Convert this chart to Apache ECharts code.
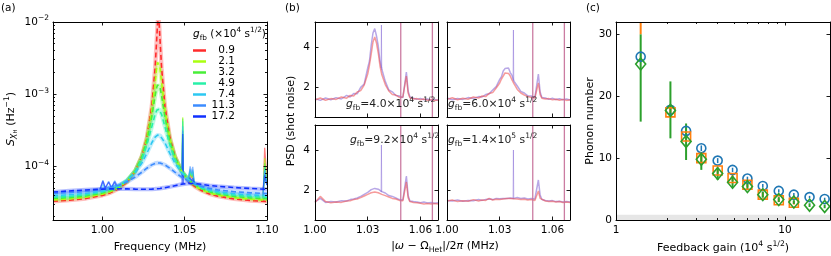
<!DOCTYPE html>
<html>
<head>
<meta charset="utf-8">
<script src="https://cdn.jsdelivr.net/npm/echarts@6.0.0/dist/echarts.min.js"></script>
<style>
html,body{margin:0;padding:0;background:#ffffff;}
#chart{width:831px;height:256px;}
</style>
</head>
<body>
<div id="chart"></div>
<script>
// ================= Panel (a) : spectra vs feedback gain =================
const aFreq = [0.970,0.980,0.990,1.000,1.005,1.010,1.015,1.020,1.024,1.027,1.030,1.032,1.033,1.0335,1.034,1.0345,1.035,1.036,1.038,1.041,1.044,1.048,1.052,1.056,1.060,1.065,1.070,1.080,1.090,1.100];
const aGainLabels = ['0.9','2.1','3.2','4.9','7.4','11.3','17.2'];
const aFit_0_9  = [3.27e-5,3.38e-5,3.57e-5,3.95e-5,4.31e-5,4.91e-5,6.04e-5,8.59e-5,1.39e-4,2.50e-4,6.81e-4,2.27e-3,5.76e-3,9.43e-3,1.20e-2,9.43e-3,5.76e-3,2.27e-3,6.81e-4,2.50e-4,1.39e-4,8.59e-5,6.39e-5,5.27e-5,4.63e-5,4.14e-5,3.85e-5,3.52e-5,3.35e-5,3.25e-5];
const aFit_2_1  = [3.42e-5,3.53e-5,3.72e-5,4.10e-5,4.45e-5,5.05e-5,6.17e-5,8.66e-5,1.37e-4,2.40e-4,5.87e-4,1.44e-3,2.33e-3,2.75e-3,2.93e-3,2.75e-3,2.33e-3,1.44e-3,5.87e-4,2.40e-4,1.37e-4,8.66e-5,6.51e-5,5.41e-5,4.77e-5,4.29e-5,4.00e-5,3.67e-5,3.50e-5,3.40e-5];
const aFit_3_2  = [3.57e-5,3.68e-5,3.87e-5,4.25e-5,4.60e-5,5.18e-5,6.28e-5,8.69e-5,1.35e-4,2.25e-4,4.88e-4,9.38e-4,1.235e-3,1.343e-3,1.383e-3,1.343e-3,1.235e-3,9.38e-4,4.88e-4,2.25e-4,1.35e-4,8.69e-5,6.61e-5,5.54e-5,4.91e-5,4.44e-5,4.14e-5,3.82e-5,3.65e-5,3.55e-5];
const aFit_4_9  = [3.72e-5,3.82e-5,4.01e-5,4.39e-5,4.73e-5,5.30e-5,6.35e-5,8.58e-5,1.27e-4,1.97e-4,3.52e-4,5.21e-4,5.96e-4,6.18e-4,6.26e-4,6.18e-4,5.96e-4,5.21e-4,3.52e-4,1.97e-4,1.27e-4,8.58e-5,6.66e-5,5.64e-5,5.03e-5,4.57e-5,4.29e-5,3.97e-5,3.80e-5,3.70e-5];
const aFit_7_4  = [3.92e-5,4.02e-5,4.20e-5,4.56e-5,4.89e-5,5.42e-5,6.35e-5,8.18e-5,1.11e-4,1.51e-4,2.12e-4,2.53e-4,2.67e-4,2.70e-4,2.72e-4,2.70e-4,2.67e-4,2.53e-4,2.12e-4,1.51e-4,1.11e-4,8.18e-5,6.62e-5,5.72e-5,5.17e-5,4.74e-5,4.47e-5,4.16e-5,4.00e-5,3.90e-5];
const aFit_11_3 = [4.21e-5,4.31e-5,4.48e-5,4.79e-5,5.06e-5,5.46e-5,6.09e-5,7.10e-5,8.30e-5,9.40e-5,1.046e-4,1.096e-4,1.109e-4,1.113e-4,1.114e-4,1.113e-4,1.109e-4,1.096e-4,1.046e-4,9.40e-5,8.30e-5,7.10e-5,6.26e-5,5.68e-5,5.28e-5,4.94e-5,4.71e-5,4.44e-5,4.28e-5,4.19e-5];
const aFit_17_2 = [4.40e-5,4.55e-5,4.70e-5,4.82e-5,4.86e-5,4.88e-5,4.86e-5,4.82e-5,4.80e-5,4.80e-5,4.82e-5,4.85e-5,4.87e-5,4.88e-5,4.90e-5,4.91e-5,4.93e-5,4.97e-5,5.05e-5,5.20e-5,5.38e-5,5.62e-5,5.80e-5,5.78e-5,5.62e-5,5.42e-5,5.28e-5,5.08e-5,4.92e-5,4.80e-5];
const aFits = [aFit_0_9,aFit_2_1,aFit_3_2,aFit_4_9,aFit_7_4,aFit_11_3,aFit_17_2];
// narrow spurious peaks in the measured traces (frequency groups, then values per gain)
const aSpikeFreqs = [
  [1.0484,1.0488,1.0492],
  [1.0522,1.0533,1.0541,1.0549,1.0558],
  [1.0976,1.0986,1.0994,1.1000],
  [0.9985,1.0003,1.0018,1.0038,1.0055,1.0075,1.0092]
];
const aSpike_0_9  = [[8.6e-5,2.5e-4,8.0e-5],[6.4e-5,7.8e-5,6.8e-5,7.6e-5,5.3e-5],[3.3e-5,1.8e-4,1.0e-4,6.0e-5],null];
const aSpike_2_1  = [[8.7e-5,4.8e-4,8.2e-5],[6.5e-5,8.2e-5,7.0e-5,8.0e-5,5.4e-5],[3.4e-5,1.3e-4,8.0e-5,5.5e-5],null];
const aSpike_3_2  = [[8.7e-5,4.6e-4,8.2e-5],[6.6e-5,8.5e-5,7.2e-5,8.3e-5,5.5e-5],[3.6e-5,1.1e-4,7.5e-5,5.5e-5],null];
const aSpike_4_9  = [[8.6e-5,4.2e-4,8.1e-5],[6.6e-5,8.8e-5,7.4e-5,8.6e-5,5.6e-5],[3.7e-5,1.0e-4,7.0e-5,5.5e-5],null];
const aSpike_7_4  = [[8.2e-5,3.6e-4,7.8e-5],[6.6e-5,9.2e-5,7.6e-5,9.0e-5,5.7e-5],[3.9e-5,9.0e-5,6.5e-5,5.5e-5],[4.5e-5,5.6e-5,4.7e-5,5.3e-5,4.8e-5,5.5e-5,5.0e-5]];
const aSpike_11_3 = [[7.1e-5,3.1e-4,6.9e-5],[6.3e-5,1.0e-4,8.0e-5,9.8e-5,5.7e-5],[4.2e-5,8.5e-5,6.5e-5,5.5e-5],[4.7e-5,6.4e-5,5.0e-5,6.2e-5,5.1e-5,6.3e-5,5.3e-5]];
const aSpike_17_2 = [[5.6e-5,2.8e-4,5.7e-5],[5.8e-5,7.0e-5,6.2e-5,6.8e-5,5.8e-5],[4.8e-5,7.5e-5,6.0e-5,5.5e-5],[4.8e-5,6.2e-5,5.0e-5,6.0e-5,5.0e-5,6.1e-5,4.9e-5]];
const aSpikes = [aSpike_0_9,aSpike_2_1,aSpike_3_2,aSpike_4_9,aSpike_7_4,aSpike_11_3,aSpike_17_2];
const aNoiseFloor = 2.2e-5;
const aXRange = [0.97, 1.10];
const aYRange = [1.8e-5, 1e-2];
const aXTicks = [1.00,1.05,1.10];
const aYTicks = [1e-4,1e-3,1e-2];
const aYMinor = [2e-5,3e-5,4e-5,5e-5,6e-5,7e-5,8e-5,9e-5,2e-4,3e-4,4e-4,5e-4,6e-4,7e-4,8e-4,9e-4,2e-3,3e-3,4e-3,5e-3,6e-3,7e-3,8e-3,9e-3];

// ================= Panel (b) : PSD for four gains =================
const bFreq = [1.000,1.003,1.006,1.009,1.012,1.015,1.018,1.020,1.022,1.024,1.026,1.028,1.030,1.031,1.032,1.033,1.034,1.035,1.036,1.037,1.038,1.040,1.042,1.044,1.046,1.048,1.050,1.051,1.052,1.053,1.054,1.056,1.058,1.060,1.062,1.064,1.066,1.068,1.070];
const bGainMant = ['4.0','6.0','9.2','1.4'];
const bGainExp = ['4','4','4','5'];
const bPurple_4_0 = [1.42,1.33,1.45,1.36,1.47,1.40,1.58,1.50,1.68,1.66,1.98,2.15,2.95,3.30,4.10,4.70,4.92,4.55,4.05,3.30,2.90,2.28,1.85,1.76,1.58,1.55,1.47,1.52,2.75,1.80,1.50,1.44,1.38,1.43,1.36,1.40,1.33,1.38,1.34];
const bRed_4_0    = [1.35,1.45,1.34,1.42,1.38,1.50,1.44,1.58,1.55,1.75,1.82,2.10,2.65,3.10,3.65,4.25,4.50,4.20,3.70,3.05,2.62,2.12,1.80,1.62,1.60,1.48,1.50,1.44,2.55,1.70,1.46,1.40,1.42,1.36,1.40,1.33,1.37,1.32,1.35];
const bPurple_6_0 = [1.45,1.36,1.42,1.38,1.47,1.42,1.52,1.50,1.62,1.66,1.85,2.02,2.38,2.52,2.80,2.92,2.98,2.95,2.72,2.58,2.30,2.05,1.78,1.70,1.56,1.55,1.47,1.55,2.65,1.75,1.48,1.45,1.38,1.44,1.37,1.41,1.36,1.40,1.35];
const bRed_6_0    = [1.38,1.46,1.36,1.44,1.39,1.50,1.45,1.55,1.52,1.68,1.72,1.95,2.20,2.40,2.55,2.70,2.74,2.68,2.55,2.35,2.18,1.88,1.70,1.60,1.52,1.48,1.45,1.42,2.20,1.62,1.44,1.40,1.42,1.36,1.39,1.34,1.38,1.33,1.36];
const bPurple_9_2 = [1.40,1.58,1.38,1.42,1.40,1.46,1.45,1.52,1.55,1.60,1.68,1.78,1.88,1.95,2.02,2.05,2.08,2.03,2.04,1.95,1.92,1.85,1.72,1.68,1.60,1.52,1.50,1.48,2.70,1.72,1.45,1.42,1.40,1.36,1.40,1.35,1.37,1.34,1.36];
const bRed_9_2    = [1.38,1.68,1.42,1.36,1.40,1.38,1.45,1.46,1.52,1.55,1.62,1.70,1.78,1.82,1.86,1.88,1.90,1.88,1.86,1.82,1.78,1.72,1.65,1.58,1.55,1.48,1.46,1.44,2.40,1.62,1.42,1.38,1.36,1.34,1.30,1.33,1.30,1.32,1.30];
const bPurple_14  = [1.48,1.45,1.50,1.44,1.48,1.46,1.52,1.48,1.53,1.55,1.52,1.58,1.56,1.60,1.58,1.62,1.58,1.62,1.60,1.63,1.58,1.62,1.58,1.60,1.55,1.58,1.55,1.60,2.50,1.75,1.52,1.48,1.45,1.47,1.42,1.44,1.40,1.43,1.40];
const bRed_14     = [1.45,1.50,1.42,1.46,1.44,1.52,1.45,1.50,1.48,1.58,1.50,1.54,1.52,1.56,1.55,1.54,1.57,1.55,1.58,1.54,1.56,1.55,1.52,1.54,1.50,1.52,1.48,1.50,1.95,1.58,1.48,1.45,1.42,1.44,1.40,1.42,1.38,1.40,1.38];
const bPurple = [bPurple_4_0,bPurple_6_0,bPurple_9_2,bPurple_14];
const bRed = [bRed_4_0,bRed_6_0,bRed_9_2,bRed_14];
const bSpurLines = [1.0488,1.0668];
const bSpikeFreq = [1.0376,1.0378,1.0380];
const bSpikeVals = [[2.95,5.10,2.85],[2.35,4.85,2.30],[1.90,4.25,1.90],[1.58,4.00,1.58]];
const bXRange = [1.00, 1.07];
const bYRange = [0.5, 5.25];
const bXTicks = [1.00,1.03,1.06];
const bYTicks = [2,4];

// ================= Panel (c) : phonon number vs gain =================
const cGain = [1.4,2.1,2.6,3.2,4.0,4.9,6.0,7.4,9.2,11.3,14.0,17.2];
const cBlue = [26.4,17.8,14.4,11.6,9.6,8.1,6.7,5.5,4.7,4.1,3.7,3.4];
const cBlueErr = [0.8,0.6,0.5,0.45,0.4,0.35,0.3,0.3,0.25,0.25,0.2,0.2];
const cOrange = [38.0,17.4,13.5,10.0,8.0,6.8,5.7,4.1,3.2,2.8,null,null];
const cOrangeErr = [8.0,0.8,0.7,0.6,0.5,0.5,0.4,0.4,0.3,0.3,null,null];
const cGreen = [25.2,17.7,12.7,9.8,7.5,6.1,5.4,4.1,3.3,2.9,2.4,2.2];
const cGreenLo = [15.9,13.2,9.7,8.1,6.5,5.3,4.8,3.6,2.9,2.6,2.1,1.9];
const cGreenHi = [30.0,22.4,15.6,11.0,8.4,6.9,6.0,4.6,3.7,3.2,2.7,2.5];
const cFloor = 0.85;
const cXRange = [1, 18.5];
const cYRange = [0, 32];
const cXTicks = [1,10];
const cXMinor = [2,3,4,5,6,7,8,9];
const cYTicks = [0,10,20,30];

// ================= styling =================
const FONT = 'DejaVu Sans';
const aColors = ['#ff2b2b','#aaff10','#48ee38','#28f0a8','#2cc8f2','#3c8cff','#1030ff'];
const bPurpleColor = '#7d5fd2';
const bRedColor = '#ee4a4a';
const bSpurColor = '#c56e98';
const cColors = ['#1f77b4','#ff7f0e','#2ca02c'];
const lg = v => Math.log10(v);

const grids = [
  {left:53, top:22, width:214, height:198},
  {left:315, top:22, width:123, height:95},
  {left:447, top:22, width:123, height:95},
  {left:315, top:125, width:123, height:95},
  {left:447, top:125, width:123, height:95},
  {left:616, top:22, width:214, height:198}
].map(g => Object.assign({containLabel:false, outerBoundsMode:'none', show:false}, g));

const xAxes = [], yAxes = [];
function mkAxis(grid, type, min, max, pos, o) {
  const a = {
    gridIndex: grid, type, min, max, position: pos,
    splitLine: {show:false}, splitArea: {show:false}, axisPointer: {show:false}, z: 10,
    axisLine: {show: o.line !== false, onZero: false, lineStyle: {color:'#000', width:1}},
    axisTick: o.ticks ? {show: true, inside: true, length: o.len || 3.5, lineStyle: {color:'#000', width:0.9}, customValues: o.ticks} : {show:false},
    axisLabel: o.labels ? {show:true, customValues:o.labels, formatter:o.fmt, color:'#000', fontFamily:FONT, fontSize:10.5, margin:o.margin || 4, rich:o.rich} : {show:false}
  };
  if (type === 'log') a.logBase = 10;
  return a;
}
function addX(a){ xAxes.push(a); return xAxes.length - 1; }
function addY(a){ yAxes.push(a); return yAxes.length - 1; }

const supRich = {
  n: {fontFamily:FONT, fontSize:10.5, lineHeight:15, color:'#000'},
  sup: {fontFamily:FONT, fontSize:7.5, lineHeight:7, verticalAlign:'top', color:'#000'}
};

// ---- axes (a): data axes + tick-only axes (log ticks drawn on log10 value scale)
const axAx = addX(mkAxis(0,'value',aXRange[0],aXRange[1],'bottom',{ticks:aXTicks, labels:aXTicks, fmt:v=>v.toFixed(2), margin:5}));
addX(mkAxis(0,'value',aXRange[0],aXRange[1],'top',{ticks:aXTicks}));
const axAy = addY(mkAxis(0,'log',aYRange[0],aYRange[1],'left',{labels:aYTicks, margin:4, rich:supRich,
  fmt:v=>'{n|10}{sup|\u2212'+Math.abs(Math.round(Math.log10(v)))+'}'}));
const aLogMin = lg(aYRange[0]), aLogMax = lg(aYRange[1]);
addY(mkAxis(0,'value',aLogMin,aLogMax,'left',{ticks:aYTicks.map(lg), line:false}));
addY(mkAxis(0,'value',aLogMin,aLogMax,'left',{ticks:aYMinor.map(lg), len:2, line:false}));
addY(mkAxis(0,'value',aLogMin,aLogMax,'right',{ticks:aYTicks.map(lg)}));
addY(mkAxis(0,'value',aLogMin,aLogMax,'right',{ticks:aYMinor.map(lg), len:2, line:false}));

// ---- axes (b)
const bAx = [];
for (let k = 0; k < 4; k++) {
  const g = k + 1, row = Math.floor(k/2), col = k % 2;
  const xi = addX(mkAxis(g,'value',bXRange[0],bXRange[1],'bottom',{ticks:bXTicks, labels: row===1 ? bXTicks : null, fmt:v=>v.toFixed(2), margin:5}));
  addX(mkAxis(g,'value',bXRange[0],bXRange[1],'top',{ticks:bXTicks}));
  const yi = addY(mkAxis(g,'value',bYRange[0],bYRange[1],'left',{ticks:bYTicks, labels: col===0 ? bYTicks : null, fmt:v=>String(v), margin:5}));
  addY(mkAxis(g,'value',bYRange[0],bYRange[1],'right',{ticks:bYTicks}));
  bAx.push({x:xi, y:yi});
}

// ---- axes (c)
const cAx = addX(mkAxis(5,'log',cXRange[0],cXRange[1],'bottom',{labels:cXTicks, fmt:v=>String(Math.round(v)), margin:5}));
const cLogMin = lg(cXRange[0]), cLogMax = lg(cXRange[1]);
addX(mkAxis(5,'value',cLogMin,cLogMax,'bottom',{ticks:cXTicks.map(lg), line:false}));
addX(mkAxis(5,'value',cLogMin,cLogMax,'bottom',{ticks:cXMinor.map(lg), len:2, line:false}));
addX(mkAxis(5,'value',cLogMin,cLogMax,'top',{ticks:cXTicks.map(lg)}));
addX(mkAxis(5,'value',cLogMin,cLogMax,'top',{ticks:cXMinor.map(lg), len:2, line:false}));
const cAy = addY(mkAxis(5,'value',cYRange[0],cYRange[1],'left',{ticks:cYTicks, labels:cYTicks, fmt:v=>String(v), margin:4}));
addY(mkAxis(5,'value',cYRange[0],cYRange[1],'right',{ticks:cYTicks}));

// ================= series =================
const series = [];
// (a) measured traces (translucent)
aFits.forEach((vals, i) => {
  const s = {type:'line', name:'trace '+aGainLabels[i], xAxisIndex:axAx, yAxisIndex:axAy,
    data: aFreq.map((f,k)=>[f, vals[k]]), showSymbol:false, symbol:'none', silent:true, z:2,
    lineStyle:{color:aColors[i], width:4.2, opacity:0.3}};
  if (i === 0) {
    s.markLine = {silent:true, symbol:['none','none'], label:{show:false}, animation:false,
      lineStyle:{color:'#808080', type:[5,3], width:1.5, opacity:1}, data:[{yAxis:aNoiseFloor}]};
  }
  series.push(s);
  aSpikes[i].forEach((grp, gi) => {
    if (!grp) return;
    series.push({type:'line', name:'spike '+aGainLabels[i]+' '+gi, xAxisIndex:axAx, yAxisIndex:axAy,
      data: aSpikeFreqs[gi].map((f,k)=>[f, grp[k]]), showSymbol:false, symbol:'none', silent:true, z:2,
      lineStyle:{color:aColors[i], width:1.3, opacity:0.6}});
  });
});
// (a) fits (dashed)
aFits.forEach((vals, i) => {
  series.push({type:'line', name:aGainLabels[i], color:aColors[i], xAxisIndex:axAx, yAxisIndex:axAy,
    data: aFreq.map((f,k)=>[f, vals[k]]), showSymbol:false, symbol:'none', silent:true, z:3,
    lineStyle:{color:aColors[i], width:1.6, type:[5,3]}});
});

// (b)
for (let k = 0; k < 4; k++) {
  series.push({type:'line', name:'purple '+k, xAxisIndex:bAx[k].x, yAxisIndex:bAx[k].y,
    data: bFreq.map((f,j)=>[f, bPurple[k][j]]), showSymbol:false, symbol:'none', silent:true, z:2,
    lineStyle:{color:bPurpleColor, width:1.5, opacity:0.55}});
  series.push({type:'line', name:'spike b '+k, xAxisIndex:bAx[k].x, yAxisIndex:bAx[k].y,
    data: bSpikeFreq.map((f,j)=>[f, bSpikeVals[k][j]]), showSymbol:false, symbol:'none', silent:true, z:2,
    lineStyle:{color:bPurpleColor, width:1, opacity:0.45}});
  series.push({type:'line', name:'red '+k, xAxisIndex:bAx[k].x, yAxisIndex:bAx[k].y,
    data: bFreq.map((f,j)=>[f, bRed[k][j]]), showSymbol:false, symbol:'none', silent:true, z:2,
    lineStyle:{color:bRedColor, width:1.5, opacity:0.55}});
  bSpurLines.forEach((v, j) => {
    series.push({type:'line', name:'spur '+k+' '+j, xAxisIndex:bAx[k].x, yAxisIndex:bAx[k].y,
      data: [[v, bYRange[0]], [v, bYRange[1]]], showSymbol:false, symbol:'none', silent:true, z:2,
      lineStyle:{color:bSpurColor, width:1.3, opacity:0.9}});
  });
}

// (c)
function errSeries(name, color, rows, width) {
  return {type:'custom', name, xAxisIndex:cAx, yAxisIndex:cAy, clip:true, silent:true, z:3,
    encode:{x:0, y:[1,2]}, data: rows,
    renderItem:(params, api) => {
      const p1 = api.coord([api.value(0), api.value(1)]);
      const p2 = api.coord([api.value(0), api.value(2)]);
      return {type:'line', shape:{x1:p1[0], y1:p1[1], x2:p2[0], y2:p2[1]}, style:{stroke:color, lineWidth:width}};
    }};
}
function markSeries(name, color, sym, size, data, extra) {
  return Object.assign({type:'scatter', name, xAxisIndex:cAx, yAxisIndex:cAy, symbol:sym, symbolSize:size,
    clip:true, silent:true, z:4, data,
    itemStyle:{color:'rgba(255,255,255,0)', borderColor:color, borderWidth:1.6, opacity:1}}, extra || {});
}
const blueRows = cGain.map((g,i)=>[g, cBlue[i]-cBlueErr[i], cBlue[i]+cBlueErr[i]]);
const orangeRows = cGain.map((g,i)=>cOrange[i]==null?null:[g, cOrange[i]-cOrangeErr[i], cOrange[i]+cOrangeErr[i]]).filter(r=>r);
const greenRows = cGain.map((g,i)=>[g, cGreenLo[i], cGreenHi[i]]);
series.push(errSeries('blue err', cColors[0], blueRows, 1.5));
series.push(markSeries('blue', cColors[0], 'circle', 9, cGain.map((g,i)=>[g, cBlue[i]]), {
  markArea:{silent:true, animation:false, itemStyle:{color:'#e6e6e6'}, data:[[{yAxis:0},{yAxis:cFloor}]]}}));
series.push(errSeries('orange err', cColors[1], orangeRows, 2));
series.push(markSeries('orange', cColors[1], 'rect', 9, cGain.map((g,i)=>[g, cOrange[i]]).filter(d=>d[1]!=null)));
series.push(errSeries('green err', cColors[2], greenRows, 2));
series.push(markSeries('green', cColors[2], 'diamond', [10,12], cGain.map((g,i)=>[g, cGreen[i]])));

// ================= text (labels, titles) =================
function mkRich(s, color) {
  const lh = Math.round(s*1.45);
  const base = {fontFamily:FONT, fill:color};
  return {
    n: Object.assign({fontSize:s, lineHeight:lh}, base),
    i: Object.assign({fontSize:s, lineHeight:lh, fontStyle:'italic'}, base),
    sup: Object.assign({fontSize:s*0.7, lineHeight:Math.round(s*0.62), verticalAlign:'top'}, base),
    sub: Object.assign({fontSize:s*0.7, lineHeight:Math.round(s*0.62), verticalAlign:'bottom'}, base),
    subi: Object.assign({fontSize:s*0.75, lineHeight:Math.round(s*0.75), verticalAlign:'bottom', fontStyle:'italic'}, base),
    sub2: Object.assign({fontSize:s*0.5, lineHeight:Math.round(s*0.45), verticalAlign:'bottom'}, base)
  };
}
function gtext(x, y, text, size, align, rot, color) {
  color = color || '#000';
  return {type:'text', x, y, rotation: rot || 0, silent:true, z:100,
    style:{text, x:0, y:0, fill:color, font: size+'px "DejaVu Sans"',
      align: align || 'center', verticalAlign:'middle', textAlign: align || 'center', textVerticalAlign:'middle',
      rich: mkRich(size, color)}};
}
const graphics = [
  gtext(1, 8, '{n|(a)}', 10.5, 'left'),
  gtext(285, 8, '{n|(b)}', 10.5, 'left'),
  gtext(586, 8, '{n|(c)}', 10.5, 'left'),
  gtext(11, 119, '{i|S}{subi|X}{sub2|H}{n| (Hz}{sup|\u22121}{n|)}', 11, 'center', Math.PI/2),
  gtext(160, 247, '{n|Frequency (MHz)}', 11, 'center'),
  gtext(291, 121, '{n|PSD (shot noise)}', 11, 'center', Math.PI/2),
  gtext(445, 246, '{n||}{i|\u03c9}{n| \u2212 \u03a9}{sub|Het}{n||/2}{i|\u03c0}{n| (MHz)}', 11, 'center'),
  gtext(590, 121, '{n|Phonon number}', 11, 'center', Math.PI/2),
  gtext(723, 248, '{n|Feedback gain (10}{sup|4}{n| s}{sup|1/2}{n|)}', 11, 'center'),
  gtext(193, 34, '{i|g}{sub|fb}{n| (\u00d710}{sup|4}{n| s}{sup|1/2}{n|)}', 10.5, 'left')
];
const bAnnPos = [[346,104],[448,104],[350,140],[448,140]];
for (let k = 0; k < 4; k++) {
  graphics.push(gtext(bAnnPos[k][0], bAnnPos[k][1],
    '{i|g}{sub|fb}{n|=' + bGainMant[k] + '\u00d710}{sup|' + bGainExp[k] + '}{n| s}{sup|1/2}', 10.8, 'left', 0, '#222'));
}

const option = {
  animation: false,
  backgroundColor: '#ffffff',
  textStyle: {fontFamily: FONT},
  grid: grids,
  xAxis: xAxes,
  yAxis: yAxes,
  legend: {
    show:true, orient:'vertical', left:193, top:45, itemWidth:13, itemHeight:2.5, itemGap:0, icon:'rect',
    padding:0, selectedMode:false,
    data: aGainLabels.map((g,i)=>({name:g, itemStyle:{color:aColors[i], opacity:1}})),
    formatter: n => '{r|' + n + '}',
    textStyle: {fontFamily:FONT, fontSize:10.5, color:'#000',
      rich:{r:{width:24, align:'right', fontFamily:FONT, fontSize:10.5, lineHeight:10.4, color:'#000'}}}
  },
  series,
  graphic: graphics
};
const chart = echarts.init(document.getElementById('chart'), null, {renderer:'canvas'});
chart.setOption(option);
</script>
</body>
</html>
